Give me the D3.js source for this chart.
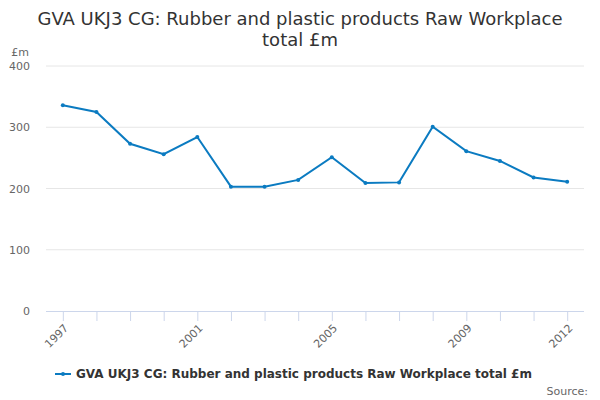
<!DOCTYPE html>
<html>
<head>
<meta charset="utf-8">
<script src="https://cdn.jsdelivr.net/npm/d3@7"></script>
<style>
    body { margin: 0; background: #fff; }
    svg { font-family: "DejaVu Sans", sans-serif; }
</style>
</head>
<body>
<div id="chart"></div>
<script>
var years = ['1997', '1998', '1999', '2000', '2001', '2002', '2003', '2004',
    '2005', '2006', '2007', '2008', '2009', '2010', '2011', '2012'];
var values = [336, 325, 273, 256, 284, 203, 203, 214,
    251, 209, 210, 301, 261, 245, 218, 211];
var yTicks = [0, 100, 200, 300, 400];
var xLabels = ['1997', '2001', '2005', '2009', '2012'];
var seriesName = 'GVA UKJ3 CG: Rubber and plastic products Raw Workplace total £m';

var width = 600,
    height = 400,
    margin = { top: 66, right: 16, bottom: 89, left: 46 },
    color = '#0b7bc1';

var svg = d3.select('#chart')
    .append('svg')
    .attr('width', width)
    .attr('height', height);

// title, wrapped on two lines like the original
svg.append('text')
    .attr('x', width / 2)
    .attr('y', 25)
    .attr('text-anchor', 'middle')
    .style('font-size', '18px')
    .style('fill', '#333')
    .selectAll('tspan')
    .data(['GVA UKJ3 CG: Rubber and plastic products Raw Workplace', 'total £m'])
    .enter()
    .append('tspan')
    .attr('x', width / 2)
    .attr('dy', function(d, i) { return i ? 21 : 0; })
    .text(function(d) { return d; });

var x = d3.scalePoint()
    .domain(years)
    .range([margin.left, width - margin.right])
    .padding(0.5);

var y = d3.scaleLinear()
    .domain([0, 400])
    .range([height - margin.bottom, margin.top]);

// grid lines
svg.append('g')
    .selectAll('line')
    .data(yTicks.slice(1))
    .enter()
    .append('line')
    .attr('x1', margin.left)
    .attr('x2', width - margin.right)
    .attr('y1', function(d) { return y(d); })
    .attr('y2', function(d) { return y(d); })
    .style('stroke', '#e6e6e6');

// y axis labels
var yAxis = svg.append('g')
    .attr('transform', 'translate(' + margin.left + ',0)')
    .call(d3.axisLeft(y).tickValues(yTicks).tickSize(0).tickPadding(16));
yAxis.select('.domain').remove();
yAxis.selectAll('text')
    .style('font-size', '11px')
    .style('fill', '#666')
    .style('font-family', '"DejaVu Sans", sans-serif');

svg.append('text')
    .attr('x', 20)
    .attr('y', 56)
    .attr('text-anchor', 'middle')
    .style('font-size', '11px')
    .style('fill', '#666')
    .text('£m');

// x axis
var xAxis = svg.append('g')
    .attr('transform', 'translate(0,' + y(0) + ')')
    .call(d3.axisBottom(x).tickSizeOuter(0).tickSize(10)
        .tickFormat(function(d) { return xLabels.indexOf(d) >= 0 ? d : ''; }));
xAxis.select('.domain')
    .attr('d', 'M' + margin.left + ',0.5H' + (width - margin.right))
    .style('stroke', '#ccd6eb');
xAxis.selectAll('.tick line').style('stroke', '#ccd6eb');
xAxis.selectAll('text')
    .style('font-size', '11px')
    .style('fill', '#666')
    .style('font-family', '"DejaVu Sans", sans-serif')
    .attr('text-anchor', 'end')
    .attr('y', 0)
    .attr('dy', '0.35em')
    .attr('transform', 'translate(3,15) rotate(-45)');

// series line
var line = d3.line()
    .x(function(d, i) { return x(years[i]); })
    .y(function(d) { return y(d); });

svg.append('path')
    .datum(values)
    .attr('d', line)
    .style('fill', 'none')
    .style('stroke', color)
    .style('stroke-width', 2);

svg.append('g')
    .selectAll('circle')
    .data(values)
    .enter()
    .append('circle')
    .attr('cx', function(d, i) { return x(years[i]); })
    .attr('cy', function(d) { return y(d); })
    .attr('r', 2)
    .style('fill', color);

// legend
var legend = svg.append('g')
    .attr('transform', 'translate(55,374)');
legend.append('line')
    .attr('x1', 0).attr('x2', 16)
    .attr('y1', 0).attr('y2', 0)
    .style('stroke', color)
    .style('stroke-width', 2);
legend.append('circle')
    .attr('cx', 8).attr('cy', 0).attr('r', 2)
    .style('fill', color);
legend.append('text')
    .attr('x', 21)
    .attr('y', 4)
    .style('font-size', '12px')
    .style('font-weight', 'bold')
    .style('fill', '#333')
    .text(seriesName);

svg.append('text')
    .attr('x', 588)
    .attr('y', 395)
    .attr('text-anchor', 'end')
    .style('font-size', '11px')
    .style('fill', '#666')
    .text('Source:');
</script>
</body>
</html>
